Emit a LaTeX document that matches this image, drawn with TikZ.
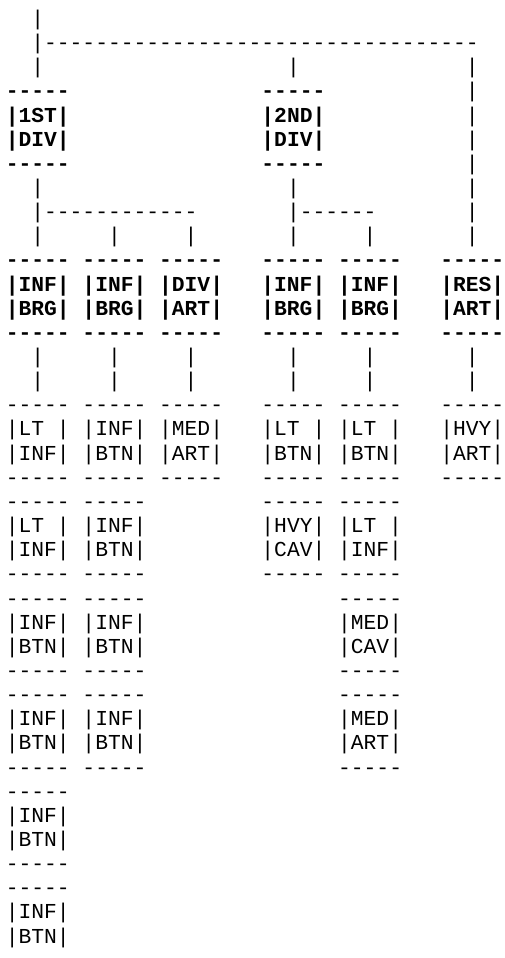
\documentclass[tikz,border=0pt]{standalone}
\usepackage{fontspec}
\setmonofont{Liberation Mono}
\newcommand{\B}[1]{\textbf{#1}}
\begin{document}
\begin{tikzpicture}[x=1pt,y=-1pt,
  asciiline/.style={anchor=base west, inner sep=0pt, outer sep=0pt, font=\ttfamily\fontsize{21.3}{24.15}\selectfont}]
\useasboundingbox (0,0) rectangle (504,958);
\def\xo{5.8}
\def\yo{25.4}
\def\lh{24.15}
\newcommand{\rowline}[2]{\node[asciiline] (r#1) at (\xo,{\yo+#1*\lh}) {#2};}
\rowline{0}{~~|}
\rowline{1}{~~|----------------------------------}
\rowline{2}{~~|~~~~~~~~~~~~~~~~~~~|~~~~~~~~~~~~~|}
\rowline{3}{\B{-----}~~~~~~~~~~~~~~~\B{-----}~~~~~~~~~~~|}
\rowline{4}{\B{|1ST|}~~~~~~~~~~~~~~~\B{|2ND|}~~~~~~~~~~~|}
\rowline{5}{\B{|DIV|}~~~~~~~~~~~~~~~\B{|DIV|}~~~~~~~~~~~|}
\rowline{6}{\B{-----}~~~~~~~~~~~~~~~\B{-----}~~~~~~~~~~~|}
\rowline{7}{~~|~~~~~~~~~~~~~~~~~~~|~~~~~~~~~~~~~|}
\rowline{8}{~~|------------~~~~~~~|------~~~~~~~|}
\rowline{9}{~~|~~~~~|~~~~~|~~~~~~~|~~~~~|~~~~~~~|}
\rowline{10}{\B{-----~-----~-----~~~-----~-----~~~-----}}
\rowline{11}{\B{|INF|~|INF|~|DIV|~~~|INF|~|INF|~~~|RES|}}
\rowline{12}{\B{|BRG|~|BRG|~|ART|~~~|BRG|~|BRG|~~~|ART|}}
\rowline{13}{\B{-----~-----~-----~~~-----~-----~~~-----}}
\rowline{14}{~~|~~~~~|~~~~~|~~~~~~~|~~~~~|~~~~~~~|}
\rowline{15}{~~|~~~~~|~~~~~|~~~~~~~|~~~~~|~~~~~~~|}
\rowline{16}{-----~-----~-----~~~-----~-----~~~-----}
\rowline{17}{|LT~|~|INF|~|MED|~~~|LT~|~|LT~|~~~|HVY|}
\rowline{18}{|INF|~|BTN|~|ART|~~~|BTN|~|BTN|~~~|ART|}
\rowline{19}{-----~-----~-----~~~-----~-----~~~-----}
\rowline{20}{-----~-----~~~~~~~~~-----~-----}
\rowline{21}{|LT~|~|INF|~~~~~~~~~|HVY|~|LT~|}
\rowline{22}{|INF|~|BTN|~~~~~~~~~|CAV|~|INF|}
\rowline{23}{-----~-----~~~~~~~~~-----~-----}
\rowline{24}{-----~-----~~~~~~~~~~~~~~~-----}
\rowline{25}{|INF|~|INF|~~~~~~~~~~~~~~~|MED|}
\rowline{26}{|BTN|~|BTN|~~~~~~~~~~~~~~~|CAV|}
\rowline{27}{-----~-----~~~~~~~~~~~~~~~-----}
\rowline{28}{-----~-----~~~~~~~~~~~~~~~-----}
\rowline{29}{|INF|~|INF|~~~~~~~~~~~~~~~|MED|}
\rowline{30}{|BTN|~|BTN|~~~~~~~~~~~~~~~|ART|}
\rowline{31}{-----~-----~~~~~~~~~~~~~~~-----}
\rowline{32}{-----}
\rowline{33}{|INF|}
\rowline{34}{|BTN|}
\rowline{35}{-----}
\rowline{36}{-----}
\rowline{37}{|INF|}
\rowline{38}{|BTN|}
\end{tikzpicture}
\end{document}
